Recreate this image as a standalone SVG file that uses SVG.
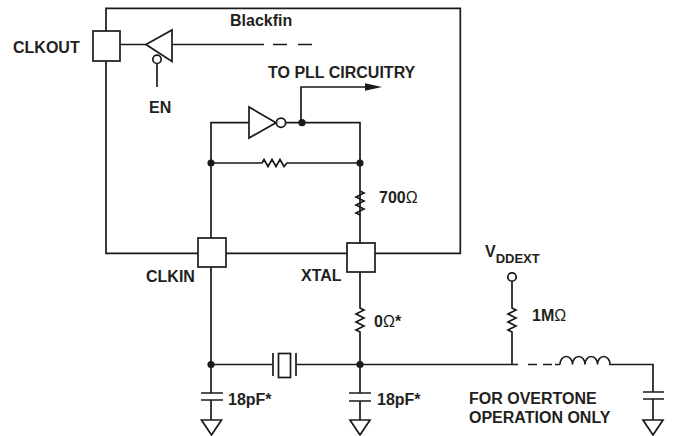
<svg xmlns="http://www.w3.org/2000/svg" width="673" height="436" viewBox="0 0 673 436">
<style>
.w{fill:none;stroke:#1a1a1a;stroke-width:1.7;stroke-linejoin:miter}
.f{fill:#1a1a1a;stroke:none}
.wf{fill:#fff;stroke:#1a1a1a;stroke-width:1.7}
.t{font-family:"Liberation Sans",Arial,sans-serif;font-weight:bold;font-size:16px;fill:#231f20}
.o{font-weight:normal}
</style>
<g id="connectors">
<path class="w" d="M106,31 V8.3 H460.3 V253.3 H375 M347,253.3 H226 M198,253.3 H106 V61"/>
<path class="w" d="M120,44.5 H146 M172,44.5 H264 M273,44.5 H287 M298,44.5 H312"/>
<path class="w" d="M157,63.6 V87"/>
<path class="w" d="M249,122.7 H211 V238 M286,122.7 H360 V243"/>
<path class="w" d="M301,122.7 V87 H366"/>
<path class="w" d="M211,163 H262 l2,-3.5 l4,7 l4,-7 l4,7 l4,-7 l4,7 l3,-3.5 H360"/>
<path class="w" d="M360,191 l4,2 l-8,4 l8,4 l-8,4 l8,4 l-8,4 l4,2"/>
<path class="w" d="M211,267 V393 M211,400 V420"/>
<path class="w" d="M360,272 V308 l4,2 l-8,4 l8,4 l-8,4 l8,4 l-8,4 l4,2 V393 M360,401 V420"/>
<path class="w" d="M211,364.5 H272.3 M295.7,364.5 H518"/>
<path class="w" d="M528,364.5 H537 M543,364.5 H552 M555,364.5 H560"/>
<path class="w" d="M560,364.5 a6.25,8 0 0 1 12.5,0 a6.25,8 0 0 1 12.5,0 a6.25,8 0 0 1 12.5,0 a6.25,8 0 0 1 12.5,0 H653 V392 M653,399 V420"/>
<path class="w" d="M512,281.3 V308 l4,2 l-8,4 l8,4 l-8,4 l8,4 l-8,4 l4,2 V364.5"/>
</g>
<g id="CLKOUT_pad"><rect class="wf" x="93" y="31" width="27" height="30"/></g>
<g id="CLKIN_pad"><rect class="wf" x="198" y="238" width="28" height="29"/></g>
<g id="XTAL_pad"><rect class="wf" x="347" y="243" width="28" height="29"/></g>
<g id="buffer">
<polygon class="wf" points="146,44.5 172,30 172,61.5"/>
<circle class="wf" cx="157" cy="59.3" r="4.2"/>
</g>
<g id="inverter">
<polygon class="wf" points="249,107 249,138 276,122.7"/>
<circle class="wf" cx="281" cy="122.7" r="4.6"/>
</g>
<g id="arrow"><polygon class="f" points="365,83.3 382,87 365,90.7"/></g>
<g id="dots">
<circle class="f" cx="302" cy="122.7" r="3.6"/>
<circle class="f" cx="211" cy="163" r="3.6"/>
<circle class="f" cx="360" cy="163" r="3.6"/>
<circle class="f" cx="211" cy="364.5" r="3.6"/>
<circle class="f" cx="360" cy="364.5" r="3.6"/>
</g>
<g id="crystal">
<path class="w" d="M273,353 V376 M296,353 V376"/>
<rect class="wf" x="278.5" y="353.5" width="12" height="24"/>
</g>
<g id="caps">
<path class="w" d="M201,393 H223 M201,400 H223"/>
<path class="w" d="M349,393 H371 M349,401 H371"/>
<path class="w" d="M643,392 H664 M643,399 H664"/>
</g>
<g id="grounds">
<polygon class="wf" points="201.5,420 221.5,420 211.5,435"/>
<polygon class="wf" points="350,420 370,420 360,435"/>
<polygon class="wf" points="643,420 663,420 653,435"/>
</g>
<g id="vddext"><circle class="wf" cx="512" cy="277" r="4.2"/></g>
<g id="labels">
<text class="t" x="230" y="25.5">Blackfin</text>
<text class="t" x="13" y="52.5">CLKOUT</text>
<text class="t" x="149" y="113">EN</text>
<text class="t" x="268" y="78">TO PLL CIRCUITRY</text>
<text class="t" x="379" y="203">700<tspan class="o">Ω</tspan></text>
<text class="t" x="146" y="282">CLKIN</text>
<text class="t" x="301" y="281">XTAL</text>
<text class="t" x="374" y="327">0<tspan class="o">Ω</tspan>*</text>
<text class="t" x="228" y="405">18pF*</text>
<text class="t" x="377" y="405">18pF*</text>
<text class="t" x="485" y="257">V<tspan font-size="13" y="263">DDEXT</tspan></text>
<text class="t" x="532" y="321">1M<tspan class="o">Ω</tspan></text>
<text class="t" x="469" y="404">FOR OVERTONE</text>
<text class="t" x="469" y="423">OPERATION ONLY</text>
</g>
</svg>
